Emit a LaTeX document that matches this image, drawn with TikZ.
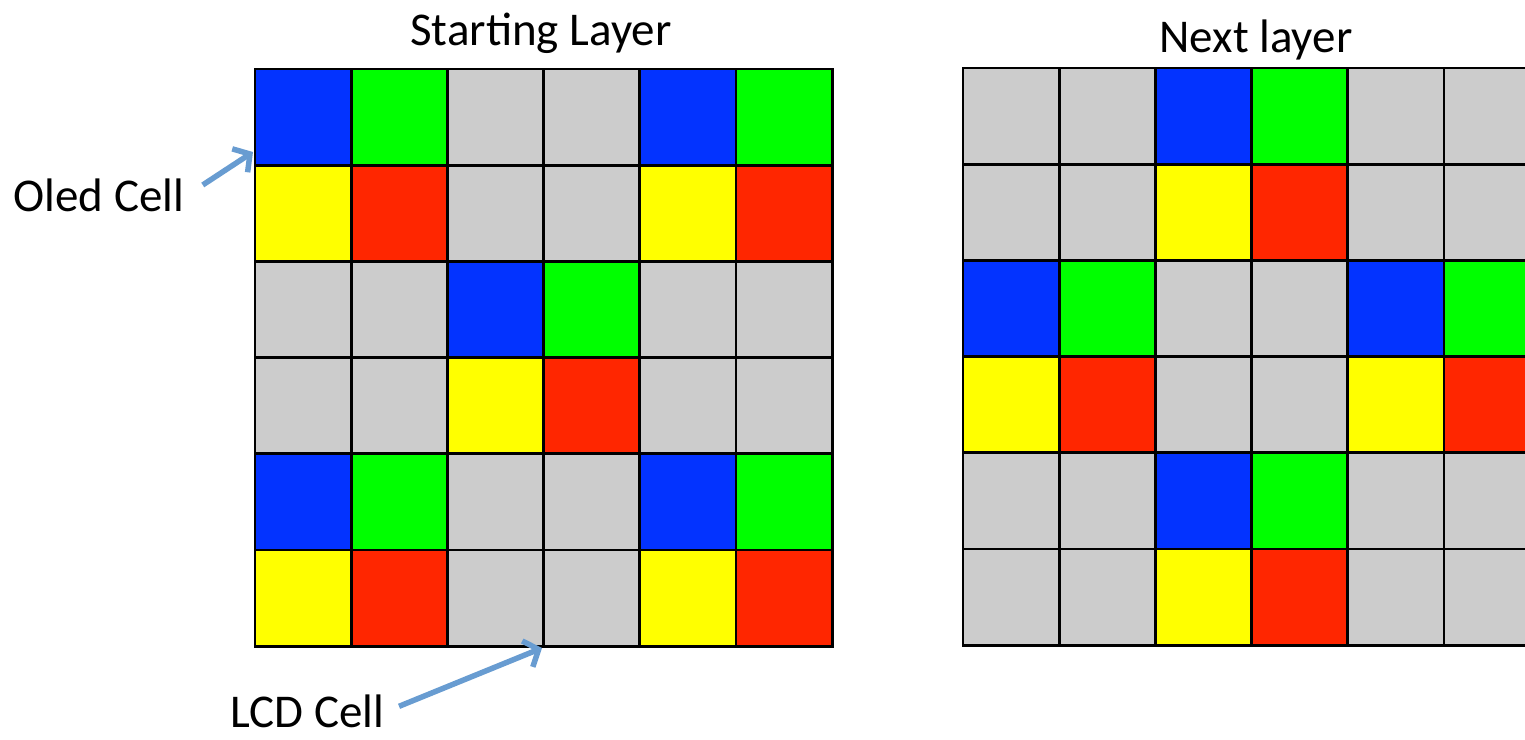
\documentclass[tikz,border=0pt]{standalone}
\usepackage{fontspec}
\setmainfont{Carlito}
\usetikzlibrary{arrows.meta,positioning}
\definecolor{cb}{RGB}{3,51,255}
\definecolor{cg}{RGB}{0,255,0}
\definecolor{cy}{RGB}{255,255,0}
\definecolor{cr}{RGB}{255,38,0}
\definecolor{cn}{RGB}{204,204,204}
\definecolor{arrowblue}{RGB}{104,156,209}

\begin{document}
\begin{tikzpicture}[
  x=1pt, y=-1pt,
  cell/.style={draw=black, line width=2.9pt},
  lbl/.style={font=\fontsize{47}{56}\selectfont, inner ysep=1pt},
  arr/.style={-{Straight Barb[length=12pt,width=28pt]}, line width=5.5pt, draw=arrowblue}
]
\useasboundingbox (0,0) rectangle (1525,739);

% starting layer
\foreach \row [count=\r from 0] in {{b,g,n,n,b,g},{y,r,n,n,y,r},{n,n,b,g,n,n},{n,n,y,r,n,n},{b,g,n,n,b,g},{y,r,n,n,y,r}}
  \foreach \k [count=\c from 0] in \row
    \draw[cell, fill=c\k] (255+96.2*\c,69+96.2*\r) rectangle ++(96.2,96.2);

% next layer (runs off the right edge)
\begin{scope}
\clip (0,0) rectangle (1525,739);
\foreach \row [count=\r from 0] in {{n,n,b,g,n,n},{n,n,y,r,n,n},{b,g,n,n,b,g},{y,r,n,n,y,r},{n,n,b,g,n,n},{n,n,y,r,n,n}}
  \foreach \k [count=\c from 0] in \row
    \draw[cell, fill=c\k] (963+96.2*\c,68+96.2*\r) rectangle ++(96.2,96.2);
\end{scope}

\coordinate (oledtip) at (253,152);
\coordinate (lcdtip) at (542,648);

\node[lbl, anchor=base] (start) at (541,45) {Starting Layer};
\node[lbl, anchor=base] (next) at (1256,52) {Next layer};
\node[lbl, anchor=base west] (oled) at (10,211) {Oled Cell};
\node[lbl, anchor=base west] (lcd) at (227,727) {LCD Cell};

\draw[arr, shorten <=18pt] (oled.east) -- (oledtip);
\draw[arr, shorten <=12pt] (lcd.east) -- (lcdtip);
\end{tikzpicture}
\end{document}
